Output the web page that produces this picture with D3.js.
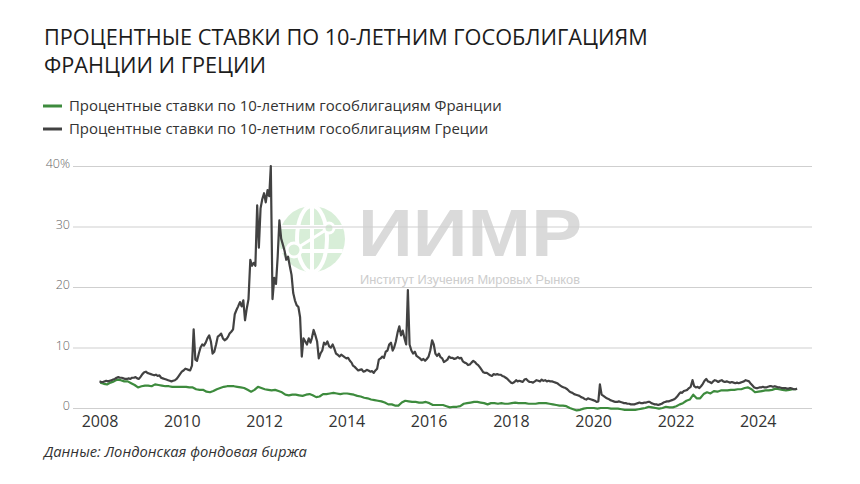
<!DOCTYPE html>
<html>
<head>
<meta charset="utf-8">
<script src="https://cdn.jsdelivr.net/npm/d3@7/dist/d3.min.js"></script>
<style>
  html, body { margin: 0; padding: 0; background: #fff; }
  svg { display: block; }
</style>
</head>
<body>
<svg id="chart" width="860" height="484"></svg>
<script>
// ---------------- DATA ----------------
const titleLines = ["ПРОЦЕНТНЫЕ СТАВКИ ПО 10-ЛЕТНИМ ГОСОБЛИГАЦИЯМ", "ФРАНЦИИ И ГРЕЦИИ"];
const seriesNames = [
  "Процентные ставки по 10-летним гособлигациям Франции",
  "Процентные ставки по 10-летним гособлигациям Греции"
];
const sourceText = "Данные: Лондонская фондовая биржа";
const yTicks = [0, 10, 20, 30, 40];
const xTickYears = [2008, 2010, 2012, 2014, 2016, 2018, 2020, 2022, 2024];
const firstMonth = "2008-01";

// Greece: two readings per month (1st and 2nd half), Jan 2008 – Dec 2024
const greece = [
  // 2008
  4.4,4.3, 4.3,4.4, 4.5,4.4, 4.5,4.6, 4.7,4.8, 5.0,5.1, 5.0,5.0, 4.9,4.8, 4.8,4.9, 4.8,5.0, 5.0,5.1, 4.9,4.8,
  // 2009
  5.2,5.6, 5.9,6.0, 5.8,5.7, 5.6,5.5, 5.4,5.5, 5.3,5.4, 5.0,4.9, 4.8,4.7, 4.6,4.5, 4.4,4.5, 4.6,4.8, 5.2,5.6,
  // 2010
  6.0,6.2, 6.5,6.4, 6.3,6.2, 7.0,13.0, 8.0,7.8, 9.0,10.0, 10.5,10.3, 10.8,11.5, 12.0,11.0, 9.0,9.3, 10.5,11.8, 12.0,12.3,
  // 2011
  11.5,11.2, 11.4,11.8, 12.3,12.6, 13.0,15.5, 16.2,16.8, 17.5,16.8, 17.8,14.5, 16.5,18.0, 24.5,23.5, 24.0,23.5, 33.5,26.5, 33.0,34.5,
  // 2012
  35.5,34.0, 36.0,35.0, 40.0,18.0, 21.5,20.5, 25.0,31.0, 28.0,27.0, 26.0,24.5, 25.0,23.5, 22.0,19.0, 17.8,17.0, 16.7,15.0, 8.5,11.5,
  // 2013
  11.0,10.5, 11.5,10.8, 11.6,12.9, 12.0,11.0, 8.2,9.0, 9.5,10.8, 10.5,11.0, 10.2,10.0, 10.5,9.8, 9.0,8.8, 8.5,8.8, 8.6,8.4,
  // 2014
  8.2,8.3, 7.8,7.5, 7.0,6.8, 6.5,6.2, 6.3,6.4, 6.0,6.1, 6.3,6.2, 6.0,6.1, 5.8,6.2, 6.5,8.0, 8.2,8.5, 8.3,9.3,
  // 2015
  9.5,10.5, 10.8,9.5, 10.0,11.0, 12.5,13.5, 12.0,12.8, 11.5,10.5, 19.5,10.5, 9.5,9.0, 9.3,8.6, 8.4,8.2, 7.9,8.1, 7.8,8.1,
  // 2016
  8.5,9.5, 11.2,10.5, 9.0,8.6, 9.0,8.4, 8.2,7.6, 7.8,8.0, 8.5,8.3, 8.3,8.1, 8.2,8.4, 8.2,8.3, 7.7,7.5, 7.4,7.1,
  // 2017
  7.2,7.5, 7.8,7.6, 7.3,7.1, 6.7,6.3, 5.9,5.8, 5.8,5.6, 5.4,5.3, 5.6,5.5, 5.6,5.5, 5.5,5.3, 5.2,5.0, 4.8,4.5,
  // 2018
  4.2,4.1, 4.3,4.6, 4.4,4.5, 4.4,4.3, 4.7,4.8, 4.5,4.3, 4.3,4.2, 4.4,4.6, 4.5,4.4, 4.7,4.5, 4.6,4.4, 4.5,4.4,
  // 2019
  4.4,4.3, 4.2,4.1, 3.9,3.7, 3.5,3.4, 3.3,3.1, 2.8,2.6, 2.5,2.3, 2.2,2.1, 2.0,1.8, 1.7,1.5, 1.4,1.6, 1.5,1.4,
  // 2020
  1.3,1.2, 1.0,1.1, 3.9,2.2, 2.0,1.8, 1.6,1.5, 1.3,1.2, 1.1,1.0, 1.0,1.1, 1.0,0.9, 0.8,0.8, 0.7,0.7, 0.6,0.6,
  // 2021
  0.6,0.7, 0.8,0.9, 0.8,0.8, 0.9,0.9, 1.0,1.0, 0.8,0.7, 0.6,0.6, 0.5,0.6, 0.7,0.9, 1.0,1.1, 1.1,1.2, 1.3,1.4,
  // 2022
  1.6,1.9, 2.3,2.6, 2.5,2.8, 2.9,3.0, 3.3,3.5, 4.6,3.6, 3.4,3.5, 3.3,3.6, 4.0,4.5, 4.8,4.4, 4.3,4.1, 4.4,4.6,
  // 2023
  4.5,4.3, 4.5,4.6, 4.4,4.3, 4.4,4.3, 4.2,4.3, 4.2,4.1, 4.2,4.1, 4.2,4.3, 4.4,4.6, 4.5,4.4, 4.0,3.7, 3.4,3.3,
  // 2024
  3.3,3.4, 3.4,3.5, 3.4,3.4, 3.5,3.6, 3.6,3.5, 3.6,3.5, 3.4,3.4, 3.3,3.3, 3.3,3.2, 3.2,3.3, 3.2,3.1, 3.1,3.2
];

// France: one reading per month, Jan 2008 – Dec 2024
const france = [
  4.2,4.0,3.9,4.2,4.4,4.7,4.6,4.4,4.4,4.1,3.8,3.4,   // 2008
  3.6,3.7,3.7,3.6,3.9,3.8,3.7,3.6,3.6,3.5,3.5,3.5,   // 2009
  3.5,3.5,3.4,3.4,3.1,3.0,3.0,2.7,2.6,2.8,3.1,3.3,   // 2010
  3.5,3.6,3.6,3.6,3.5,3.4,3.3,3.0,2.7,3.0,3.5,3.3,   // 2011
  3.1,3.0,2.9,3.0,2.8,2.6,2.2,2.1,2.2,2.2,2.1,2.0,   // 2012
  2.2,2.3,2.1,1.8,1.9,2.3,2.3,2.4,2.5,2.4,2.3,2.4,   // 2013
  2.4,2.3,2.2,2.0,1.9,1.7,1.6,1.4,1.3,1.2,1.1,0.9,   // 2014
  0.6,0.6,0.4,0.4,0.9,1.2,1.1,1.0,1.0,0.9,0.9,1.0,   // 2015
  0.8,0.5,0.5,0.5,0.5,0.3,0.1,0.2,0.2,0.3,0.7,0.8,   // 2016
  0.9,1.0,1.0,0.9,0.8,0.6,0.8,0.8,0.7,0.8,0.7,0.7,   // 2017
  0.8,0.9,0.8,0.8,0.8,0.7,0.7,0.7,0.8,0.8,0.8,0.7,   // 2018
  0.6,0.5,0.4,0.4,0.3,0.0,-0.2,-0.4,-0.3,-0.1,0.0,0.0, // 2019
  0.0,-0.1,0.0,0.0,0.0,-0.1,-0.1,-0.1,-0.2,-0.3,-0.3,-0.3, // 2020
  -0.3,-0.2,-0.1,0.0,0.2,0.1,0.0,-0.1,0.0,0.2,0.1,0.1,  // 2021
  0.3,0.6,0.8,1.2,1.4,2.2,1.6,1.6,2.3,2.6,2.4,2.8,   // 2022
  2.7,2.9,2.9,2.9,3.0,3.0,3.1,3.1,3.3,3.4,3.1,2.6,   // 2023
  2.7,2.8,2.9,2.9,3.0,3.2,3.1,3.0,2.9,3.0,3.1,3.1    // 2024
];

const colors = { france: "#3d8b3d", greece: "#424242" };

// ---------------- CHART ----------------
const svg = d3.select("#chart");
const parseMonth = d3.timeParse("%Y-%m");
const start = parseMonth(firstMonth);

const greeceData = greece.map((v, i) => {
  const m = d3.timeMonth.offset(start, Math.floor(i / 2));
  const d = new Date(m.getFullYear(), m.getMonth(), i % 2 === 0 ? 1 : 16);
  return { date: d, value: v };
});
const franceData = france.map((v, i) => {
  const m = d3.timeMonth.offset(start, i);
  return { date: new Date(m.getFullYear(), m.getMonth(), 8), value: v };
});

const x = d3.scaleTime()
  .domain([new Date(2008, 0, 1), new Date(2024, 0, 1)])
  .range([99.5, 757.7]);
const y = d3.scaleLinear().domain([0, 40]).range([408, 166]);
const gridX0 = 73, gridX1 = 812;

const FONT = "'Open Sans', 'Noto Sans', sans-serif";

// scale a group of text nodes so that the first one reaches the target width
function fitGroup(sel, target) {
  const first = sel.node();
  const size = parseFloat(sel.attr("font-size"));
  const w = first.getComputedTextLength();
  if (w > 0) sel.attr("font-size", (size * target / w).toFixed(2));
}

// Title
const title = svg.append("g").selectAll("text").data(titleLines).join("text")
  .attr("x", 44).attr("y", (d, i) => 45 + i * 28)
  .attr("font-family", FONT).attr("font-size", 21).attr("font-weight", 400)
  .attr("fill", "#1c1c1c").text(d => d);
fitGroup(title, 604);

// Legend
const legend = svg.append("g");
const legItems = [
  { name: seriesNames[0], color: colors.france },
  { name: seriesNames[1], color: colors.greece }
];
legend.selectAll("line").data(legItems).join("line")
  .attr("x1", 43).attr("x2", 62)
  .attr("y1", (d, i) => 106 + i * 23).attr("y2", (d, i) => 106 + i * 23)
  .attr("stroke", d => d.color).attr("stroke-width", 3);
const legText = legend.selectAll("text").data(legItems).join("text")
  .attr("x", 69).attr("y", (d, i) => 111 + i * 23)
  .attr("font-family", FONT).attr("font-size", 14.5).attr("fill", "#333").text(d => d.name);
fitGroup(legText, 433);

// Watermark
const wm = svg.append("g");
const gcx = 312, gcy = 239, gr = 33;
wm.append("circle").attr("cx", gcx).attr("cy", gcy).attr("r", gr).attr("fill", "#d8eed8");
wm.append("ellipse").attr("cx", gcx).attr("cy", gcy).attr("rx", 15).attr("ry", gr)
  .attr("fill", "none").attr("stroke", "#fff").attr("stroke-width", 4);
wm.append("line").attr("x1", gcx).attr("x2", gcx).attr("y1", gcy - gr).attr("y2", gcy + gr)
  .attr("stroke", "#fff").attr("stroke-width", 4);
[-12, 12].forEach(dy => {
  const hw = Math.sqrt(gr * gr - dy * dy);
  wm.append("line").attr("x1", gcx - hw).attr("x2", gcx + hw).attr("y1", gcy + dy).attr("y2", gcy + dy)
    .attr("stroke", "#fff").attr("stroke-width", 4);
});
wm.append("line").attr("x1", gcx - 18).attr("y1", gcy + 11).attr("x2", gcx + 17).attr("y2", gcy - 11)
  .attr("stroke", "#fff").attr("stroke-width", 3);
wm.append("circle").attr("cx", gcx + 17).attr("cy", gcy - 11).attr("r", 5)
  .attr("fill", "#d8eed8").attr("stroke", "#fff").attr("stroke-width", 3);
wm.append("circle").attr("cx", gcx - 18).attr("cy", gcy + 11).attr("r", 7)
  .attr("fill", "#d8eed8").attr("stroke", "#fff").attr("stroke-width", 3);
wm.append("text").attr("x", 358).attr("y", 256)
  .attr("font-family", "'Liberation Sans', Arial, sans-serif").attr("font-weight", 700)
  .attr("font-size", 67).attr("fill", "#dadada")
  .attr("textLength", 224).attr("lengthAdjust", "spacingAndGlyphs").text("ИИМР");
wm.append("text").attr("x", 360).attr("y", 284)
  .attr("font-family", "'Liberation Sans', Arial, sans-serif").attr("font-size", 12).attr("fill", "#cdcdcd")
  .attr("textLength", 220).attr("lengthAdjust", "spacingAndGlyphs").text("Институт Изучения Мировых Рынков");

// Grid + y labels
const grid = svg.append("g");
grid.selectAll("line").data(yTicks).join("line")
  .attr("x1", gridX0).attr("x2", gridX1)
  .attr("y1", d => y(d) + 0.5).attr("y2", d => y(d) + 0.5)
  .attr("stroke", "#cfcfcf").attr("stroke-width", 1);
grid.selectAll("text").data(yTicks).join("text")
  .attr("x", 70).attr("y", d => y(d) + 2)
  .attr("text-anchor", "end")
  .attr("font-family", FONT).attr("font-size", 12.5).attr("font-weight", 300).attr("fill", "#666")
  .text(d => d === 40 ? d + "%" : d);

// X axis labels
const xAxis = d3.axisBottom(x)
  .tickValues(xTickYears.map(yr => new Date(yr, 0, 1)))
  .tickFormat(d3.timeFormat("%Y")).tickSize(0).tickPadding(0);
const xg = svg.append("g").attr("transform", "translate(0,415)").call(xAxis);
xg.select(".domain").remove();
xg.selectAll("text").attr("font-family", FONT).attr("font-size", 16).attr("font-weight", 500)
  .attr("fill", "#333").attr("dy", "0.75em");

// Lines
const line = d3.line().x(d => x(d.date)).y(d => y(d.value)).curve(d3.curveLinear);
svg.append("path").datum(franceData).attr("d", line)
  .attr("fill", "none").attr("stroke", colors.france).attr("stroke-width", 2.2).attr("stroke-linejoin", "round");
svg.append("path").datum(greeceData).attr("d", line)
  .attr("fill", "none").attr("stroke", colors.greece).attr("stroke-width", 2.2).attr("stroke-linejoin", "round");

// Source
const src = svg.append("text").attr("x", 44).attr("y", 457)
  .attr("font-family", FONT).attr("font-style", "italic").attr("font-size", 14).attr("fill", "#333")
  .text(sourceText);
fitGroup(src, 263);
</script>
</body>
</html>
